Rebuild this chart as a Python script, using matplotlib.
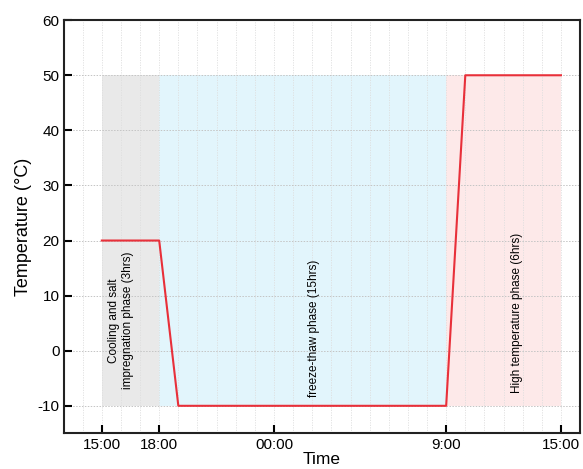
import matplotlib
matplotlib.use("Agg")
import matplotlib.pyplot as plt
import numpy as np

plt.rcParams['font.family'] = ['Liberation Sans', 'DejaVu Sans']
plt.rcParams['axes.unicode_minus'] = False

# data (hours since 15:00)
time_h = [0, 3, 4, 18, 19, 24]
temp_c = [20, 20, -10, -10, 50, 50]
tick_pos = [0, 3, 9, 18, 24]
tick_labels = ["15:00", "18:00", "00:00", "9:00", "15:00"]
phase_start = [0, 3, 18]
phase_end = [3, 18, 24]
phase_colors = ["#e9e9e9", "#e2f5fc", "#fde9e9"]
phase_labels = ["Cooling and salt\nimpregnation phase (3hrs)",
                "freeze-thaw phase (15hrs)",
                "High temperature phase (6hrs)"]
label_x = [1.0, 11.1, 21.7]
label_y = [5.5, 4.0, 6.8]

fig = plt.figure(figsize=(5.83, 4.69), dpi=100)
ax = fig.add_axes([0.109, 0.076, 0.886, 0.881])

for s, e, c in zip(phase_start, phase_end, phase_colors):
    ax.fill_between([s, e], -10, 50, color=c, lw=0, zorder=0)

ax.plot(time_h, temp_c, color="#e8303a", lw=1.5, zorder=3)

for x, y, t in zip(label_x, label_y, phase_labels):
    ax.text(x, y, t, rotation=90, ha="center", va="center", fontsize=8.5, zorder=4)

ax.set_xlim(-2, 25)
ax.set_ylim(-15, 60)
ax.set_xticks(tick_pos)
ax.set_xticklabels(tick_labels)
ax.set_xticks(np.arange(-1, 25, 1), minor=True)
ax.set_yticks(np.arange(-10, 61, 10))
ax.grid(True, which="major", axis="y", linestyle=(0, (1.5, 1.5)), color="#c4c4c4", lw=0.7, zorder=1)
ax.grid(True, which="minor", axis="x", linestyle=(0, (1.5, 1.5)), color="#dedede", lw=0.6, zorder=1)
ax.grid(True, which="major", axis="x", linestyle=(0, (1.5, 1.5)), color="#dedede", lw=0.6, zorder=1)
ax.set_axisbelow(True)
ax.tick_params(which="major", direction="in", length=6, width=1.5, labelsize=11, pad=3)
ax.tick_params(which="minor", length=0)
for sp in ax.spines.values():
    sp.set_linewidth(1.5)
    sp.set_color("#222222")
ax.set_xlabel("Time", fontsize=12.5, labelpad=0)
ax.set_ylabel("Temperature (°C)", fontsize=13)

fig.savefig("out.png", dpi=100)
